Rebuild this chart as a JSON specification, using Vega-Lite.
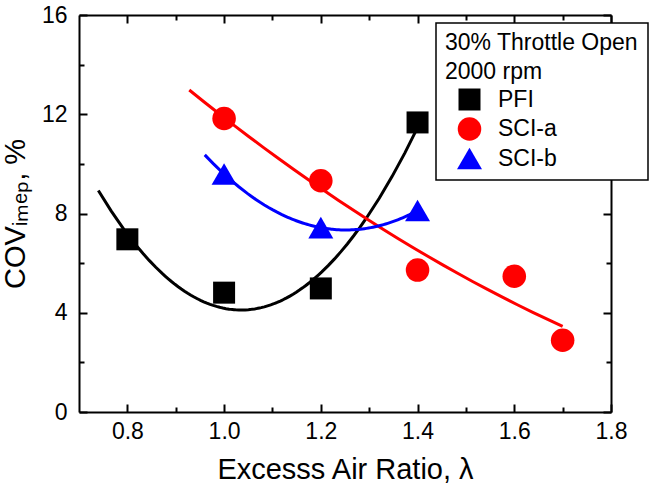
{
  "$schema": "https://vega.github.io/schema/vega-lite/v6.json",
  "autosize": "none",
  "width": 532,
  "height": 397,
  "padding": {"left": 79, "top": 15, "right": 48, "bottom": 75},
  "background": "white",
  "data": {
    "values": [
      {"series": "PFI", "lambda": 0.8, "cov": 6.96},
      {"series": "PFI", "lambda": 1.0, "cov": 4.81},
      {"series": "PFI", "lambda": 1.2, "cov": 4.98},
      {"series": "PFI", "lambda": 1.4, "cov": 11.67},
      {"series": "SCI-a", "lambda": 1.0, "cov": 11.83},
      {"series": "SCI-a", "lambda": 1.2, "cov": 9.32},
      {"series": "SCI-a", "lambda": 1.4, "cov": 5.72},
      {"series": "SCI-a", "lambda": 1.6, "cov": 5.47},
      {"series": "SCI-a", "lambda": 1.7, "cov": 2.89},
      {"series": "SCI-b", "lambda": 1.0, "cov": 9.59},
      {"series": "SCI-b", "lambda": 1.2, "cov": 7.43},
      {"series": "SCI-b", "lambda": 1.4, "cov": 8.12}
    ]
  },
  "layer": [
    {
      "encoding": {
        "x": {
          "field": "lambda", "type": "quantitative",
          "scale": {"domain": [0.7, 1.8], "nice": false, "zero": false},
          "axis": {
            "orient": "bottom",
            "title": "Excesss Air Ratio, λ",
            "values": [0.8, 0.9, 1.0, 1.1, 1.2, 1.3, 1.4, 1.5, 1.6, 1.7, 1.8],
            "labelExpr": "round(datum.value * 10) % 2 == 0 ? format(datum.value, '.1f') : ''",
            "tickSize": {"condition": {"test": "round(datum.value * 10) % 2 == 0", "value": -8}, "value": -5},
            "labelPadding": 16,
            "titlePadding": 9
          }
        },
        "y": {
          "field": "cov", "type": "quantitative",
          "scale": {"domain": [0, 16], "nice": false},
          "axis": {
            "orient": "left",
            "title": "COVᵢₘₑₚ, %",
            "values": [0, 2, 4, 6, 8, 10, 12, 14, 16],
            "labelExpr": "datum.value % 4 == 0 ? format(datum.value, 'd') : ''",
            "tickSize": {"condition": {"test": "datum.value % 4 == 0", "value": -8}, "value": -5},
            "labelPadding": 20,
            "titlePadding": 11
          }
        }
      },
      "layer": [
        {
          "transform": [
            {"filter": "datum.series == 'PFI'"},
            {"regression": "cov", "on": "lambda", "method": "poly", "order": 2, "extent": [0.74, 1.4]}
          ],
          "mark": {"type": "line", "color": "#000000", "strokeWidth": 3}
        },
        {
          "transform": [
            {"filter": "datum.series == 'SCI-a'"},
            {"regression": "cov", "on": "lambda", "method": "poly", "order": 2, "extent": [0.928, 1.7]}
          ],
          "mark": {"type": "line", "color": "#ff0000", "strokeWidth": 3}
        },
        {
          "transform": [
            {"filter": "datum.series == 'SCI-b'"},
            {"regression": "cov", "on": "lambda", "method": "poly", "order": 2, "extent": [0.96, 1.4]}
          ],
          "mark": {"type": "line", "color": "#0000ff", "strokeWidth": 3}
        },
        {
          "mark": {"type": "point", "filled": true, "opacity": 1, "strokeWidth": 0},
          "encoding": {
            "color": {
              "field": "series", "type": "nominal",
              "scale": {"domain": ["PFI", "SCI-a", "SCI-b"], "range": ["#000000", "#ff0000", "#0000ff"]},
              "legend": {
                "orient": "none",
                "legendX": 357,
                "legendY": 8,
                "title": ["30% Throttle Open", "2000 rpm"]
              }
            },
            "shape": {
              "field": "series", "type": "nominal",
              "scale": {"domain": ["PFI", "SCI-a", "SCI-b"], "range": ["square", "circle", "triangle-up"]}
            },
            "size": {
              "field": "series", "type": "nominal",
              "scale": {"domain": ["PFI", "SCI-a", "SCI-b"], "range": [484, 625, 700]},
              "legend": null
            }
          }
        }
      ]
    },
    {
      "mark": {"type": "point", "opacity": 0},
      "encoding": {
        "x": {
          "field": "lambda", "type": "quantitative",
          "scale": {"domain": [0.7, 1.8], "nice": false, "zero": false},
          "axis": {
            "orient": "top", "title": null, "labels": false,
            "values": [0.8, 0.9, 1.0, 1.1, 1.2, 1.3, 1.4, 1.5, 1.6, 1.7, 1.8],
            "tickSize": {"condition": {"test": "round(datum.value * 10) % 2 == 0", "value": -8}, "value": -5}
          }
        },
        "y": {
          "field": "cov", "type": "quantitative",
          "scale": {"domain": [0, 16], "nice": false},
          "axis": {
            "orient": "right", "title": null, "labels": false,
            "values": [0, 2, 4, 6, 8, 10, 12, 14, 16],
            "tickSize": {"condition": {"test": "datum.value % 4 == 0", "value": -8}, "value": -5}
          }
        }
      }
    }
  ],
  "resolve": {"axis": {"x": "independent", "y": "independent"}},
  "config": {
    "font": "Liberation Sans",
    "view": {"stroke": null},
    "axis": {
      "grid": false,
      "domainColor": "#000000",
      "domainWidth": 2,
      "tickColor": "#000000",
      "tickWidth": 2,
      "labelFont": "Liberation Sans",
      "labelFontSize": 23,
      "labelColor": "#000000",
      "labelFlush": false,
      "labelOverlap": false,
      "titleFont": "Liberation Sans",
      "titleFontSize": 29,
      "titleFontWeight": "normal",
      "titleColor": "#000000"
    },
    "legend": {
      "titleFont": "Liberation Sans",
      "titleFontSize": 23,
      "titleFontWeight": "normal",
      "titleColor": "#000000",
      "titleLineHeight": 29,
      "titlePadding": 4,
      "titleLimit": 400,
      "labelFont": "Liberation Sans",
      "labelFontSize": 23,
      "labelColor": "#000000",
      "labelLimit": 300,
      "symbolSize": 240,
      "symbolOffset": 12,
      "symbolStrokeWidth": 0,
      "labelOffset": 16,
      "rowPadding": 5,
      "padding": 9,
      "strokeColor": "#000000",
      "fillColor": "#ffffff",
      "strokeWidth": 1.5
    }
  }
}
